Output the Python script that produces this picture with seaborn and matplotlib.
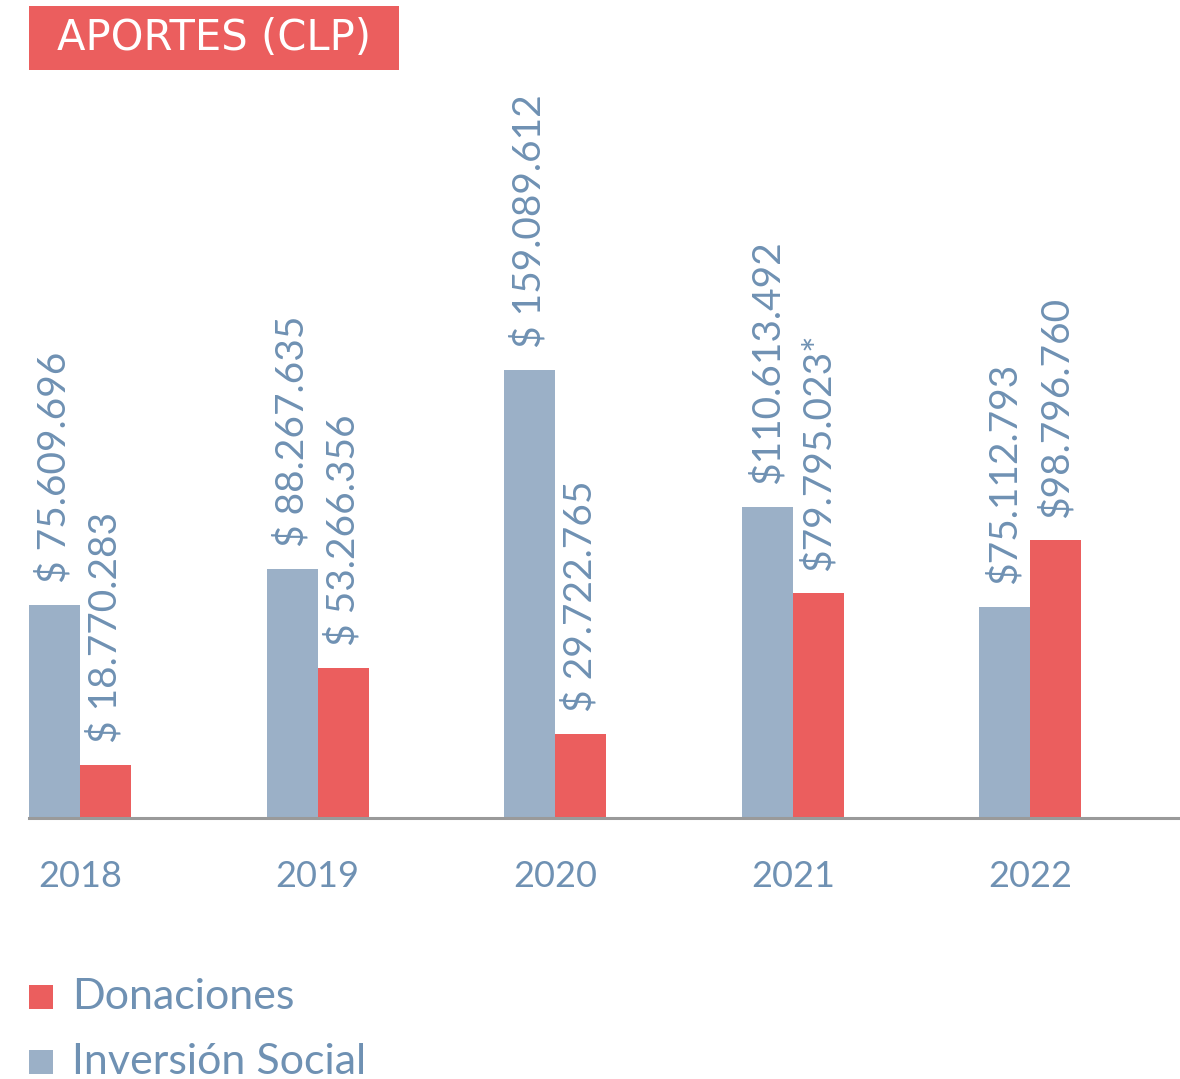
import matplotlib
matplotlib.use("Agg")
import matplotlib.pyplot as plt
from matplotlib.patches import Rectangle
import seaborn as sns
import pandas as pd

# Aportes por año (CLP)
years = ["2018", "2019", "2020", "2021", "2022"]
inversion_social = [75609696, 88267635, 159089612, 110613492, 75112793]
donaciones = [18770283, 53266356, 29722765, 79795023, 98796760]
inversion_labels = ["$ 75.609.696", "$ 88.267.635", "$ 159.089.612", "$110.613.492", "$75.112.793"]
donaciones_labels = ["$ 18.770.283", "$ 53.266.356", "$ 29.722.765", "$79.795.023*", "$98.796.760"]
series_names = ["Inversión Social", "Donaciones"]
title = "APORTES (CLP)"

RED = "#eb5e5e"
BLUE = "#9bb0c7"
TEXT = "#6f91b3"

df = pd.DataFrame({
    "Año": years * 2,
    "Monto": inversion_social + donaciones,
    "Tipo": [series_names[0]] * len(years) + [series_names[1]] * len(years),
})

sns.set_theme(style="white")
plt.rcParams["font.family"] = ["Lato", "DejaVu Sans"]

W, H = 1180, 1079
fig = plt.figure(figsize=(W / 100, H / 100), dpi=100)
ax_left, ax_right = 29 / W, 1.0
ax_bottom, ax_top = (H - 818) / H, (H - 100) / H
ax = fig.add_axes([ax_left, ax_bottom, ax_right - ax_left, ax_top - ax_bottom])

sns.barplot(data=df, x="Año", y="Monto", hue="Tipo", hue_order=series_names,
            palette=[BLUE, RED], width=0.43, saturation=1, linewidth=0,
            ax=ax, legend=False)

ax.set_xlim(-0.215, 4.63)
ax.set_ylim(0, 255e6)

for container, labels in zip(ax.containers, [inversion_labels, donaciones_labels]):
    ax.bar_label(container, labels=labels, padding=16, rotation=90,
                 color=TEXT, fontsize=28, fontweight="normal")

for s in ["top", "right", "left"]:
    ax.spines[s].set_visible(False)
ax.spines["bottom"].set_color("#9a9a9a")
ax.spines["bottom"].set_linewidth(2.2)
ax.set_yticks([])
ax.set_xlabel("")
ax.set_ylabel("")
ax.tick_params(axis="x", length=0, pad=30, labelsize=26, labelcolor=TEXT)

# Title banner
fig.add_artist(Rectangle((29 / W, (H - 70) / H), 370 / W, 64 / H,
                         transform=fig.transFigure, facecolor=RED, edgecolor="none"))
fig.text(214 / W, (H - 38) / H, title,
         ha="center", va="center", color="white", fontsize=30,
         fontweight="normal", family=["DejaVu Sans"], transform=fig.transFigure)

# Legend
legend_items = [(series_names[1], RED, 997), (series_names[0], BLUE, 1062)]
for name, color, yc in legend_items:
    fig.add_artist(Rectangle((29 / W, (H - yc - 12) / H), 24 / W, 24 / H,
                             transform=fig.transFigure, facecolor=color, edgecolor="none"))
    fig.text(72 / W, (H - yc) / H, name, ha="left", va="center", color=TEXT,
             fontsize=31, fontweight="normal")

fig.savefig("out.png", dpi=100)
